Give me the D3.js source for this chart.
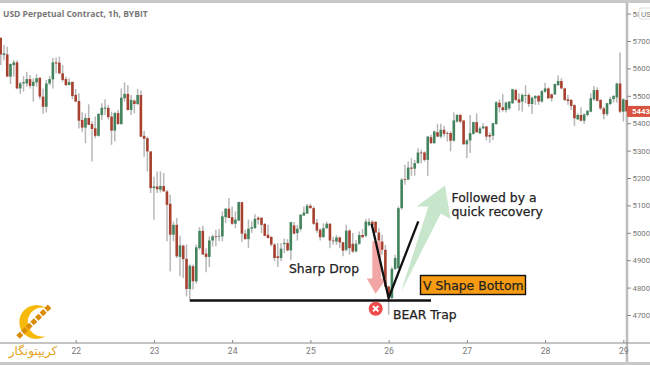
<!DOCTYPE html>
<html>
<head>
<meta charset="utf-8">
<script src="https://cdn.jsdelivr.net/npm/d3@7"></script>
<style>
  body { margin: 0; background: #fff; overflow: hidden; }
  text { font-family: "DejaVu Sans", sans-serif; }
</style>
</head>
<body>
<div id="chart"></div>
<script>
// hourly BTC candles, oldest first
var opens = [5712,5649,5651,5570,5612,5622,5527,5545,5545,5561,5536,5549,5566,5497,5460,5545,5560,5622,5621,5582,5561,5539,5551,5503,5481,5412,5384,5419,5397,5381,5354,5430,5453,5456,5424,5373,5437,5397,5491,5507,5448,5482,5470,5503,5354,5345,5297,5163,5169,5157,5171,5151,5106,4993,5029,4912,4953,4905,4795,4878,4823,4944,5007,4924,4912,4972,4987,4987,4987,5057,5088,5057,5033,5045,5112,4997,4977,5015,5017,5055,5055,5032,4993,4985,4957,4914,4908,4959,4963,4936,5027,4999,5014,5063,5070,5099,5090,5037,5011,4984,5017,5033,4972,4968,4983,4965,4938,5008,4960,4932,4960,4992,4989,5028,5040,5040,5001,4968,4938,4804,4762,4868,4871,5090,5196,5194,5238,5234,5254,5293,5293,5266,5349,5327,5367,5351,5376,5364,5364,5336,5406,5430,5410,5323,5337,5361,5404,5363,5381,5388,5357,5354,5397,5475,5458,5448,5454,5473,5521,5487,5479,5500,5503,5470,5491,5500,5479,5515,5527,5505,5505,5539,5554,5527,5487,5485,5466,5414,5430,5409,5430,5442,5487,5521,5485,5454,5433,5470,5488,5494,5545,5442,5485];
var closes = [5651,5655,5570,5616,5622,5527,5545,5550,5561,5536,5551,5564,5497,5460,5545,5561,5622,5618,5582,5558,5539,5550,5499,5479,5409,5384,5419,5394,5379,5354,5434,5456,5457,5422,5373,5437,5397,5493,5507,5448,5485,5470,5503,5351,5343,5297,5163,5169,5159,5171,5151,5102,4993,5029,4914,4954,4904,4795,4880,4823,4947,5007,4921,4912,4972,4987,4985,4989,5060,5088,5054,5033,5048,5112,4997,4977,5015,5020,5051,5048,5029,4989,4981,4957,4908,4908,4942,4963,4936,5039,4997,5015,5066,5074,5099,5090,5033,5008,4984,5017,5033,4972,4969,4983,4965,4935,5008,4944,4932,4960,4992,4984,5041,5040,5028,5001,4972,4938,4804,4766,4868,4908,5090,5194,5194,5238,5234,5254,5293,5291,5266,5351,5327,5370,5351,5376,5361,5361,5336,5410,5430,5406,5323,5337,5364,5404,5367,5381,5388,5351,5351,5400,5476,5458,5448,5475,5479,5524,5485,5475,5503,5503,5470,5493,5499,5479,5517,5527,5491,5491,5543,5554,5527,5485,5481,5463,5418,5430,5409,5432,5445,5491,5521,5482,5454,5433,5473,5488,5499,5545,5442,5487,5443];
var highs = [5712,5685,5679,5618,5630,5630,5551,5572,5588,5576,5564,5579,5567,5527,5558,5572,5639,5640,5643,5612,5570,5564,5551,5525,5509,5440,5436,5469,5406,5424,5436,5473,5487,5467,5442,5442,5448,5527,5549,5539,5503,5487,5525,5519,5372,5351,5297,5205,5224,5224,5218,5157,5139,5041,5054,4989,4957,4957,4884,4884,4957,5021,5026,4944,4987,4993,5011,5014,5078,5090,5127,5096,5078,5114,5112,5011,5048,5042,5068,5060,5056,5036,5029,4987,4963,4963,4963,4979,4977,5039,5039,5029,5068,5096,5105,5106,5096,5050,5017,5035,5041,5035,4986,4992,4986,4968,5029,5013,4999,4974,5005,5013,5050,5053,5047,5043,5017,4993,4956,4807,4875,4920,5096,5200,5248,5260,5272,5266,5309,5303,5297,5354,5358,5373,5398,5398,5390,5370,5370,5439,5434,5434,5410,5342,5430,5406,5436,5388,5400,5390,5366,5402,5481,5487,5507,5479,5481,5526,5526,5509,5509,5539,5509,5497,5503,5503,5521,5548,5531,5509,5545,5575,5564,5530,5503,5487,5469,5436,5458,5436,5448,5509,5536,5531,5487,5460,5475,5497,5503,5548,5658,5491,5485];
var lows = [5612,5630,5570,5543,5570,5524,5507,5515,5533,5527,5479,5533,5487,5434,5439,5539,5527,5582,5579,5551,5536,5539,5488,5477,5381,5369,5327,5394,5260,5345,5351,5412,5430,5414,5321,5333,5394,5394,5479,5446,5430,5436,5466,5349,5278,5224,5145,5048,5145,5147,5151,4969,4859,4969,4908,4841,4835,4768,4756,4793,4814,4938,4920,4856,4875,4950,4951,4969,4969,5036,5054,5029,5017,5042,4966,4975,4945,5000,5015,5030,4999,4987,4979,4951,4896,4875,4896,4926,4932,4900,4995,4972,5005,5060,5070,5088,5029,4999,4972,4982,5013,4944,4956,4956,4944,4914,4932,4920,4926,4928,4956,4980,4984,5023,5017,4999,4968,4920,4802,4701,4758,4863,4868,5084,5175,5194,5208,5208,5252,5254,5260,5208,5325,5325,5349,5345,5351,5333,5297,5333,5402,5400,5321,5272,5291,5358,5364,5361,5378,5337,5329,5339,5394,5439,5442,5439,5448,5470,5482,5445,5442,5473,5460,5434,5467,5467,5475,5511,5488,5479,5503,5536,5524,5481,5467,5448,5390,5412,5406,5397,5424,5440,5482,5479,5448,5414,5426,5466,5475,5475,5436,5406,5406];

var priceTicks = [4700,4800,4900,5000,5100,5200,5300,5400,5500,5600,5700,5800];
var dayTicks = [23,47,71,95,119,143,167,191];
var dayLabels = ["22","23","24","25","26","27","28","29"];
var lastPrice = 5443;

// annotations, in candle number / price
var supportLine = [[58,4753],[132,4753]];
var vShape = [[113.8,5032],[119,4762],[128.1,5042]];
var dropArrow = [[114,4969],[116.7,4969],[116.7,4833],[118.4,4833],[115,4778],[112.3,4833],[114,4833]];
var riseArrow = [[122.8,4785],[131.2,5096],[127.6,5096],[136.3,5173],[138,5050],[135,5070]];

var width = 650, height = 365;

var svg = d3.select("#chart")
    .append("svg")
    .attr("width", width)
    .attr("height", height);

var x = d3.scaleLinear()
    .domain([0, 192])
    .range([0.7, 626.6]);

var y = d3.scaleLinear()
    .domain([4700, 5700])
    .range([315, 41]);

var line = d3.line()
    .x(function (d) { return x(d[0]); })
    .y(function (d) { return y(d[1]); });

// frame bands
svg.append("rect").attr("x", 0).attr("y", 0).attr("width", width).attr("height", 3).attr("fill", "#c8c8c8");
svg.append("rect").attr("x", 0).attr("y", 362).attr("width", width).attr("height", 3).attr("fill", "#c8c8c8");

// axes
var yAxis = svg.append("g")
    .attr("transform", "translate(627,0)")
    .call(d3.axisRight(y).tickValues(priceTicks).tickFormat(d3.format("d")).tickSize(4));
yAxis.select(".domain").attr("stroke", "#bdbdbd").attr("stroke-width", 2.5).attr("d", "M0,3V362");
yAxis.selectAll("line").attr("stroke", "#888");
yAxis.selectAll("text").attr("fill", "#777").style("font-family", "Roboto").style("font-size", "7.8px").attr("x", 5.5);

var xAxis = svg.append("g")
    .attr("transform", "translate(0,343)")
    .call(d3.axisBottom(x).tickValues(dayTicks).tickFormat(function (d, i) { return dayLabels[i]; }).tickSize(-3));
xAxis.select(".domain").attr("stroke", "#888").attr("d", "M0,0H650");
xAxis.selectAll("line").attr("stroke", "#888");
xAxis.selectAll("text").attr("fill", "#777").style("font-family", "Roboto").style("font-size", "8.5px").attr("y", 5);

// candles
var candles = svg.append("g");

candles.selectAll(".wick")
    .data(opens)
    .enter()
    .append("line")
    .attr("x1", function (d, i) { return x(i); })
    .attr("x2", function (d, i) { return x(i); })
    .attr("y1", function (d, i) { return y(highs[i]); })
    .attr("y2", function (d, i) { return y(lows[i]); })
    .attr("stroke", "#b8b8b8")
    .attr("stroke-width", 1.5);

candles.selectAll(".body")
    .data(opens)
    .enter()
    .append("rect")
    .attr("x", function (d, i) { return x(i) - 1.3; })
    .attr("y", function (d, i) { return y(Math.max(d, closes[i])); })
    .attr("width", 2.6)
    .attr("height", function (d, i) { return Math.max(0.8, Math.abs(y(d) - y(closes[i]))); })
    .attr("fill", function (d, i) { return closes[i] >= d ? "#43845f" : "#a8402f"; });

// last price tag
svg.append("rect").attr("x", 627).attr("y", y(lastPrice) - 5.5).attr("width", 23).attr("height", 11).attr("fill", "#d9523f");
svg.append("text")
    .attr("x", 632).attr("y", y(lastPrice) + 3)
    .attr("fill", "#fff")
    .style("font-family", "Roboto").style("font-size", "7.8px").style("font-weight", "bold")
    .text(lastPrice);

// currency badge
svg.append("rect").attr("x", 639).attr("y", 8).attr("width", 14).attr("height", 11).attr("rx", 2)
    .attr("fill", "#fff").attr("stroke", "#ddd");
svg.append("text").attr("x", 641).attr("y", 16.5).attr("fill", "#777")
    .style("font-family", "Roboto").style("font-size", "8px").text("US");

// title
svg.append("text")
    .attr("x", 3).attr("y", 17)
    .attr("fill", "#777")
    .style("font-family", "Open Sans").style("font-size", "8.5px").style("font-weight", "bold")
    .text("USD Perpetual Contract, 1h, BYBIT");

// annotations
svg.append("path").attr("d", line(dropArrow) + "Z").attr("fill", "#f2a6a6");
svg.append("path").attr("d", line(riseArrow) + "Z").attr("fill", "#c8e6cc");
svg.append("path").attr("d", line(vShape)).attr("fill", "none").attr("stroke", "#111").attr("stroke-width", 2.3);
svg.append("path").attr("d", line(supportLine)).attr("stroke", "#111").attr("stroke-width", 2.3);

svg.append("circle").attr("cx", 375.7).attr("cy", 308.7).attr("r", 7).attr("fill", "#ef4b4b");
svg.append("path").attr("d", "M373,306L378.4,311.4M378.4,306L373,311.4").attr("stroke", "#fff").attr("stroke-width", 2);

svg.append("rect").attr("x", 420.5).attr("y", 275.5).attr("width", 105).attr("height", 19)
    .attr("fill", "#f79c12").attr("stroke", "#111").attr("stroke-width", 1.4);

var notes = [
    ["Sharp Drop", 289, 272.5],
    ["Followed by a", 451.5, 201.5],
    ["quick recovery", 451.5, 215.5],
    ["BEAR Trap", 393, 319],
    ["V Shape Bottom", 423, 289.5]
];
svg.selectAll(".note")
    .data(notes)
    .enter()
    .append("text")
    .attr("x", function (d) { return d[1]; })
    .attr("y", function (d) { return d[2]; })
    .attr("fill", "#222")
    .attr("stroke", "#222")
    .attr("stroke-width", 0.25)
    .style("font-size", "12.4px")
    .text(function (d) { return d[0]; });

// logo
svg.append("path")
    .attr("d", "M46,308A17,17 0 1 0 46,336A14.5,14.5 0 1 1 46,308Z")
    .attr("fill", "#f6b90a");
svg.append("path")
    .attr("d", "M18,337L50,306")
    .attr("stroke", "#d98c08").attr("stroke-width", 5).attr("stroke-dasharray", "5,1.5");
svg.append("text")
    .attr("x", 33).attr("y", 355)
    .attr("text-anchor", "middle")
    .attr("fill", "#e3a31c")
    .style("font-size", "12px")
    .text("کریپتونگار");
</script>
</body>
</html>
